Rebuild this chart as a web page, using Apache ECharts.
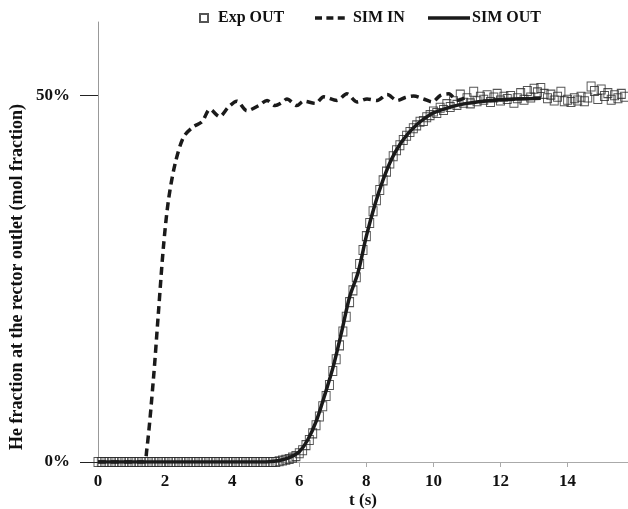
<!DOCTYPE html>
<html>
<head>
<meta charset="utf-8">
<script src="https://cdn.jsdelivr.net/npm/echarts@6/dist/echarts.min.js"></script>
<style>html,body{margin:0;padding:0;background:#fff}#c{width:628px;height:509px}</style>
</head>
<body>
<div id="c"></div>
<script>
// ---- data ----
const xTickLabels = [0, 2, 4, 6, 8, 10, 12, 14];
const yTickLabels = [0, 50];

const expTime = [
  0,0.1,0.2,0.3,0.4,0.5,0.6,0.7,0.8,0.9,
  1,1.1,1.2,1.3,1.4,1.5,1.6,1.7,1.8,1.9,
  2,2.1,2.2,2.3,2.4,2.5,2.6,2.7,2.8,2.9,
  3,3.1,3.2,3.3,3.4,3.5,3.6,3.7,3.8,3.9,
  4,4.1,4.2,4.3,4.4,4.5,4.6,4.7,4.8,4.9,
  5,5.1,5.2,5.3,5.4,5.5,5.6,5.7,5.8,5.9,
  6,6.1,6.2,6.3,6.4,6.5,6.6,6.7,6.8,6.9,
  7,7.1,7.2,7.3,7.4,7.5,7.6,7.7,7.8,7.9,
  8,8.1,8.2,8.3,8.4,8.5,8.6,8.7,8.8,8.9,
  9,9.1,9.2,9.3,9.4,9.5,9.6,9.7,9.8,9.9,
  10,10.1,10.2,10.3,10.4,10.5,10.6,10.7,10.8,10.9,
  11,11.1,11.2,11.3,11.4,11.5,11.6,11.7,11.8,11.9,
  12,12.1,12.2,12.3,12.4,12.5,12.6,12.7,12.8,12.9,
  13,13.1,13.2,13.3,13.4,13.5,13.6,13.7,13.8,13.9,
  14,14.1,14.2,14.3,14.4,14.5,14.6,14.7,14.8,14.9,
  15,15.1,15.2,15.3,15.4,15.5,15.6,15.7
];
const expOut = [
  0,0,0,0,0,0,0,0,0,0,
  0,0,0,0,0,0,0,0,0,0,
  0,0,0,0,0,0,0,0,0,0,
  0,0,0,0,0,0,0,0,0,0,
  0,0,0,0,0,0,0,0,0,0,
  0,0,0,0,0.1,0.2,0.3,0.4,0.6,0.8,
  1.2,1.6,2.3,3.0,3.9,5.0,6.2,7.6,9.0,10.5,
  12.4,14.0,15.9,17.8,19.8,21.8,23.4,25.2,27.0,28.9,
  30.8,32.6,34.2,35.7,37.1,38.4,39.6,40.7,41.7,42.5,
  43.2,43.9,44.5,45.0,45.5,45.9,46.4,46.5,47.0,47.3,
  47.8,47.6,48.3,48.0,48.8,48.4,49.2,48.7,50.1,49.0,
  49.6,48.9,50.5,49.2,49.8,49.4,50.0,49.1,49.7,50.2,
  49.3,49.8,49.5,49.9,49.0,49.6,50.3,49.4,50.6,49.7,
  50.9,50.4,51.0,50.2,49.6,50.1,49.3,49.8,50.5,49.2,
  49.4,49.1,49.6,49.3,49.8,49.2,49.7,51.2,50.6,49.5,
  50.8,49.9,50.3,49.4,50.0,49.6,50.2,49.8
];

const simInTime = [0,1.35,1.45,1.65,1.8,1.95,2.1,2.3,2.55,2.84,3.1,3.34,3.62,3.89,4.14,4.44,4.79,5.04,5.28,5.48,5.63,5.93,6.13,6.48,6.73,7.12,7.42,7.72,8.02,8.32,8.62,8.92,9.16,9.41,9.71,9.96,10.21,10.46,10.7,11.0];
const simIn = [0,0,1.5,11.2,20.3,29.3,35.7,40.7,44.3,45.7,46.4,48.1,47.1,48.4,49.2,47.9,48.6,49.3,48.6,49.0,49.5,48.6,49.2,48.9,49.8,49.3,50.2,49.1,49.5,49.3,50.1,49.3,49.7,49.9,49.5,49.1,50.0,50.2,49.3,49.8];

const simOutTime = [0,5.0,5.25,5.5,5.75,6.0,6.25,6.5,6.75,7.0,7.25,7.5,7.75,8.0,8.25,8.5,8.75,9.0,9.25,9.5,9.75,10.0,10.5,11.0,11.5,12.0,12.5,13.2];
const simOut = [0,0,0.1,0.3,0.7,1.4,3.0,5.5,9.0,12.8,17.5,22.5,25.8,30.8,35.0,38.5,41.3,43.3,44.8,46.0,46.9,47.6,48.4,48.9,49.2,49.4,49.5,49.6];

const pair = (xs, ys) => xs.map((x, i) => [x, ys[i]]);

const FONT = 'Liberation Serif';
const DASH_ICON = 'path://M0,0h8v4h-8z M13,0h8v4h-8z M26,0h8v4h-8z';
const legendText = {fontFamily: FONT, fontWeight: 'bold', fontSize: 16, color: '#111'};
const chart = echarts.init(document.getElementById('c'), null, {renderer: 'canvas'});
chart.setOption({
  animation: false,
  backgroundColor: '#fff',
  grid: {left: 98, right: 0, top: 22, bottom: 47, containLabel: false, outerBoundsMode: 'none'},
  legend: [
    {
      data: [{name: 'Exp OUT', icon: 'rect'}],
      left: 194, top: 5,
      itemWidth: 8, itemHeight: 8,
      textStyle: Object.assign({}, legendText, {padding: [0, 0, 0, 5]}),
      selectedMode: false
    },
    {
      data: [{name: 'SIM IN', icon: DASH_ICON}],
      left: 310, top: 5,
      itemWidth: 36, itemHeight: 3.5,
      textStyle: legendText,
      selectedMode: false
    },
    {
      data: [{name: 'SIM OUT', icon: 'rect'}],
      left: 423, top: 5,
      itemWidth: 42, itemHeight: 3.5,
      textStyle: Object.assign({}, legendText, {padding: [0, 0, 0, -3]}),
      selectedMode: false
    }
  ],
  xAxis: {
    type: 'value', min: 0, max: 15.8,
    name: 't (s)', nameLocation: 'middle', nameGap: 30, nameMoveOverlap: false,
    nameTextStyle: {fontFamily: FONT, fontWeight: 'bold', fontSize: 17, color: '#111'},
    axisLine: {show: true, lineStyle: {color: '#aaa', width: 1}},
    axisTick: {show: true, length: 5, lineStyle: {color: '#aaa'}, customValues: xTickLabels},
    axisLabel: {fontFamily: FONT, fontWeight: 'bold', fontSize: 17, color: '#111', margin: 11, customValues: xTickLabels},
    splitLine: {show: false}
  },
  yAxis: {
    type: 'value', min: 0, max: 60,
    name: 'He fraction at the rector outlet (mol fraction)', nameLocation: 'middle', nameGap: 72, nameMoveOverlap: false,
    nameTextStyle: {fontFamily: FONT, fontWeight: 'bold', fontSize: 18, color: '#111', padding: [0, 70, 0, 0]},
    axisLine: {show: true, lineStyle: {color: '#999', width: 1}},
    axisTick: {show: true, length: 18, lineStyle: {color: '#222'}, customValues: yTickLabels},
    axisLabel: {fontFamily: FONT, fontWeight: 'bold', fontSize: 17, color: '#111', margin: 28,
      formatter: v => v + '%', customValues: yTickLabels},
    splitLine: {show: false}
  },
  series: [
    {
      name: 'Exp OUT', type: 'scatter', data: pair(expTime, expOut),
      symbol: 'rect', symbolSize: [8, 9], clip: false, z: 1,
      itemStyle: {color: 'rgba(255,255,255,0)', borderColor: '#2a2a2a', borderWidth: 1}
    },
    {
      name: 'SIM IN', type: 'line', data: pair(simInTime, simIn),
      symbol: 'none', smooth: 0.3, z: 3,
      lineStyle: {color: '#1a1a1a', width: 3.5, type: [8, 5]},
      itemStyle: {color: '#1a1a1a'}
    },
    {
      name: 'SIM OUT', type: 'line', data: pair(simOutTime, simOut),
      symbol: 'none', smooth: 0.3, z: 3,
      lineStyle: {color: '#1a1a1a', width: 3.5},
      itemStyle: {color: '#1a1a1a'}
    }
  ]
});
</script>
</body>
</html>
